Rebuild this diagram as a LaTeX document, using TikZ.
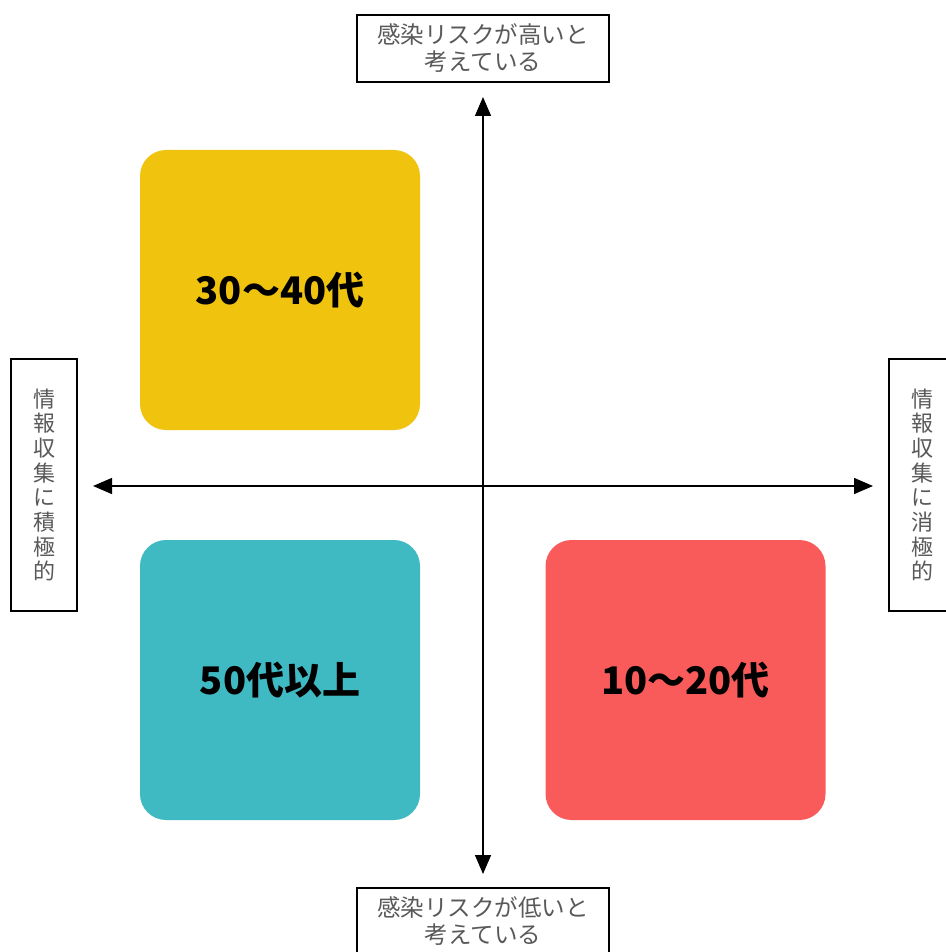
\documentclass[tikz,border=0pt]{standalone}
\usepackage{fontspec}
\setmainfont{Noto Sans CJK JP}
\usepackage{xcolor}
\usepackage{tikz}
\usetikzlibrary{arrows.meta, positioning}

\definecolor{quadyellow}{HTML}{F0C30F}
\definecolor{quadteal}{HTML}{3FB9C2}
\definecolor{quadred}{HTML}{F95B5A}
\definecolor{labelgray}{HTML}{595959}

\tikzset{
    axislabel/.style={draw=black, line width=1.3pt, fill=white, text=labelgray,
        align=center, inner sep=0pt},
    quadrant/.style={rounded corners=26pt, minimum width=280pt, minimum height=280pt,
        inner sep=0pt, text=black, font=\fontsize{38}{44}\selectfont\bfseries},
}

\begin{document}
\begin{tikzpicture}[x=1pt, y=-1pt, >={Triangle[length=19pt, width=16pt]}]
    \useasboundingbox (0,0) rectangle (945,952);

    % Achsen
    \coordinate (axtop) at (483,97);
    \coordinate (axbottom) at (483,874);
    \coordinate (axleft) at (93,486);
    \coordinate (axright) at (873,486);
    \draw[<->, line width=1.4pt] (axbottom) -- (axtop);
    \draw[<->, line width=1.4pt] (axleft) -- (axright);

    % Beschriftung der Achsen
    \node[axislabel, minimum width=252pt, minimum height=67pt,
        font=\fontsize{23.5}{27}\selectfont] (high) at (483,48.5)
        {感染リスクが高いと\\考えている};
    \node[axislabel, minimum width=252pt, minimum height=67pt,
        font=\fontsize{23.5}{27}\selectfont] (low) at (483,921.5)
        {感染リスクが低いと\\考えている};
    \node[axislabel, minimum width=66pt, minimum height=252pt,
        font=\fontsize{22}{24.7}\selectfont] (active) at (44,485)
        {情\\報\\収\\集\\に\\積\\極\\的};
    \node[axislabel, minimum width=66pt, minimum height=252pt,
        font=\fontsize{22}{24.7}\selectfont] (passive) at (922,485)
        {情\\報\\収\\集\\に\\消\\極\\的};

    % Quadranten
    \node[quadrant, fill=quadyellow] (mid) at (280,290) {30～40代};
    \node[quadrant, fill=quadteal] (old) at (280,680) {50代以上};
    \node[quadrant, fill=quadred] (young) at (685.5,680) {10～20代};
\end{tikzpicture}
\end{document}
